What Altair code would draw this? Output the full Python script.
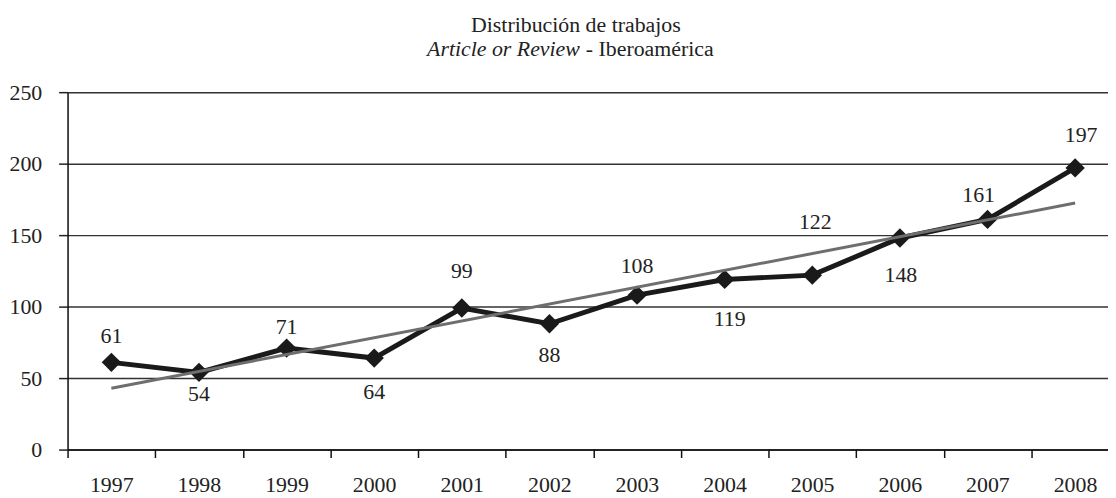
import json
import altair as alt
import pandas as pd

# ---- data ----
years = ["1997", "1998", "1999", "2000", "2001", "2002",
         "2003", "2004", "2005", "2006", "2007", "2008"]
values = [61, 54, 71, 64, 99, 88, 108, 119, 122, 148, 161, 197]
y_ticks = [0, 50, 100, 150, 200, 250]
title_line1 = "Distribución de trabajos"
title_italic = "Article or Review"
title_rest = "- Iberoamérica"

# label placement (style): pixel offsets of each value label from its point
label_dx = [0, 0, 0, 0, 0, 0, 0, 5, 3, 1, -9, 6]
label_dy = [-27, 22, -21, 34, -37, 32, -29, 40, -53, 37, -25, -33]

FONT = "Liberation Serif"
FS = 22
INK = "#1a1a1a"

df = pd.DataFrame({"idx": list(range(len(years))), "year": years, "value": values})

x_enc = alt.X(
    "idx:Q",
    scale=alt.Scale(domain=[-0.5, len(years) - 0.625], nice=False, zero=False),
    axis=alt.Axis(
        values=[i - 0.5 for i in range(len(years))],
        labelExpr=f"{json.dumps(years)}[round(datum.value + 0.5)]",
        labelOffset=44,
        labelFlush=False,
        labelOverlap=False,
        tickSize=8,
        tickColor="#111111",
        tickWidth=1.5,
        labelPadding=17,
        labelFont=FONT,
        labelFontSize=FS,
        labelColor="#222222",
        domainColor="#111111",
        domainWidth=1.5,
        grid=False,
        title=None,
    ),
)
y_enc = alt.Y(
    "value:Q",
    scale=alt.Scale(domain=[0, 250], nice=False),
    axis=alt.Axis(
        values=y_ticks,
        tickSize=9,
        tickColor="#222222",
        tickWidth=1.5,
        labelPadding=17,
        labelFont=FONT,
        labelFontSize=FS,
        labelColor="#222222",
        domainColor="#111111",
        domainWidth=1.5,
        grid=True,
        gridColor="#333333",
        gridWidth=1.5,
        title=None,
    ),
)

base = alt.Chart(df)

line = base.mark_line(color=INK, strokeWidth=5).encode(x=x_enc, y=y_enc)
points = base.mark_point(shape="diamond", filled=True, size=380, color=INK, opacity=1).encode(
    x="idx:Q", y="value:Q"
)
trend = base.transform_regression("idx", "value").mark_line(
    color="#6e6e6e", strokeWidth=3
).encode(x="idx:Q", y="value:Q")

labels = []
for i in range(len(years)):
    labels.append(
        base.transform_filter(alt.datum.idx == i)
        .mark_text(font=FONT, fontSize=FS, color="#222222", baseline="middle",
                   align="center", dx=label_dx[i], dy=label_dy[i])
        .encode(x="idx:Q", y="value:Q", text="value:Q")
    )

t1 = alt.Chart(pd.DataFrame({"t": [title_line1]})).mark_text(
    font=FONT, fontSize=FS, color="#222222", align="center", baseline="alphabetic"
).encode(x=alt.value(512), y=alt.value(-61), text="t:N")
t2 = alt.Chart(pd.DataFrame({"t": [title_italic]})).mark_text(
    font=FONT, fontSize=FS, fontStyle="italic", color="#222222", align="right",
    baseline="alphabetic"
).encode(x=alt.value(516), y=alt.value(-36), text="t:N")
t3 = alt.Chart(pd.DataFrame({"t": [title_rest]})).mark_text(
    font=FONT, fontSize=FS, color="#222222", align="left", baseline="alphabetic"
).encode(x=alt.value(522), y=alt.value(-36), text="t:N")

chart = alt.layer(line, points, trend, *labels, t1, t2, t3).properties(
    width=1048,
    height=360,
    autosize="none",
    padding={"left": 60, "top": 83, "right": 0, "bottom": 47},
).configure_view(strokeWidth=0).configure(background="white")

chart.save("out.html", embed_options={"renderer": "svg", "actions": False})
